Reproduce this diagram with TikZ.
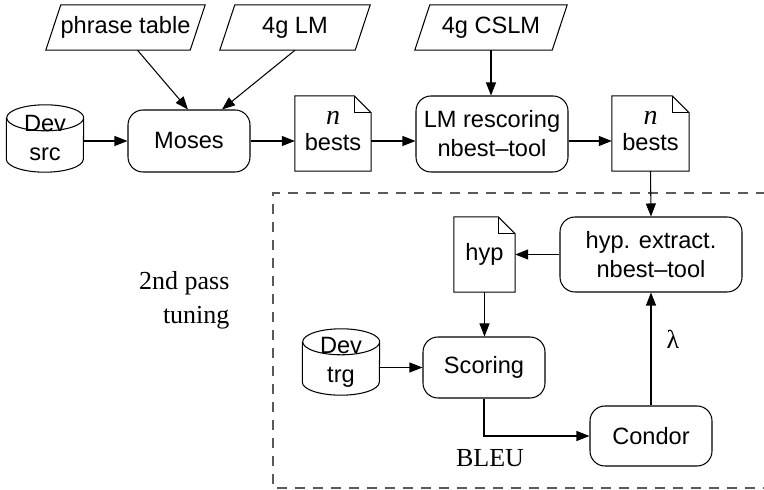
\documentclass[tikz,border=0pt]{standalone}
\usepackage{fontspec}
\setmainfont{Liberation Serif}
\setsansfont{Liberation Sans}
\usetikzlibrary{arrows.meta}
\newcommand\parashape[2]{\draw[lw] ([xshift=-#2]#1.south west) -- ([xshift=#2]#1.north west) -- ([xshift=#2]#1.north east) -- ([xshift=-#2]#1.south east) -- cycle;}
\newcommand\docshape[1]{\draw[lw] (#1.south west) -- (#1.north west) -- ([xshift=-17pt]#1.north east) -- ([yshift=-17pt]#1.north east) -- (#1.south east) -- cycle;
  \draw[lw] ([xshift=-17pt]#1.north east) |- ([yshift=-17pt]#1.north east);}
\newcommand\cylshape[1]{\draw[lw] ([yshift=-13pt]#1.north west) -- ([yshift=13pt]#1.south west)
  arc[start angle=180,end angle=360,x radius=38.5pt,y radius=13pt]
  -- ([yshift=-13pt]#1.north east)
  arc[start angle=0,end angle=180,x radius=38.5pt,y radius=13pt]
  arc[start angle=180,end angle=360,x radius=38.5pt,y radius=13pt];}
\begin{document}
\begin{tikzpicture}[x=1pt,y=1pt,
  every node/.style={font=\sffamily\fontsize{23.6}{29}\selectfont},
  lw/.style={line width=1.05pt},
  proc/.style={draw, lw, rounded corners=15pt, align=center, inner sep=0pt},
  blank/.style={inner sep=0pt, align=center},
  arr/.style={lw, -{Triangle[length=13pt,width=10pt]}},
  serif/.style={font=\rmfamily\fontsize{26}{34}\selectfont},
  nsym/.style={inner sep=0pt, font=\rmfamily\itshape\fontsize{28}{30}\selectfont},
  boundary/.style={lw, dash pattern=on 10pt off 8pt, draw=black!65},
]
\useasboundingbox (0,0) rectangle (764,490);

% dashed region
\draw[boundary] (766,297) -- (273,297) -- (273,2) -- (766,2);

% inputs
\node[blank, minimum width=144pt, minimum height=45pt] (phrase) at (125.5,462.5) {phrase table};
\parashape{phrase}{7.5pt}
\node[blank, minimum width=135pt, minimum height=45pt] (lmfour) at (295,462.5) {4g LM};
\parashape{lmfour}{7.5pt}
\node[blank, minimum width=137pt, minimum height=45pt] (cslm) at (491,462.5) {4g CSLM};
\parashape{cslm}{7.5pt}

\node[blank, minimum width=77pt, minimum height=67pt] (devsrc) at (45,351.5) {Dev\\src};
\cylshape{devsrc}

\node[proc, minimum width=122pt, minimum height=62pt] (moses) at (189,349) {Moses};

\node[blank, minimum width=76pt, minimum height=75pt] (nbone) at (333,356.5) {};
\docshape{nbone}
\node[nsym] (nbonen) at (333,372) {n};
\node[blank] (nbonet) at (333,348) {bests};

\node[proc, minimum width=152pt, minimum height=76pt] (rescore) at (492,356) {LM rescoring\\nbest--tool};

\node[blank, minimum width=77pt, minimum height=75pt] (nbtwo) at (650.5,356.5) {};
\docshape{nbtwo}
\node[nsym] (nbtwon) at (650.5,372) {n};
\node[blank] (nbtwot) at (650.5,348) {bests};

% tuning loop
\node[proc, minimum width=182pt, minimum height=75pt] (hypx) at (651,235.5) {hyp. extract.\\nbest--tool};
\node[blank, minimum width=61pt, minimum height=75pt] (hyp) at (484.5,235.5) {hyp};
\docshape{hyp}
\node[proc, minimum width=122pt, minimum height=61pt] (scoring) at (484,122.5) {Scoring};
\node[blank, minimum width=77pt, minimum height=66pt] (devtrg) at (341,128) {Dev\\trg};
\cylshape{devtrg}
\node[proc, minimum width=122pt, minimum height=60pt] (condor) at (651,54) {Condor};

\node[serif, anchor=east, align=right] (tuning) at (233,190) {2nd pass\\tuning};
\node[serif] (bleu) at (490,32) {BLEU};
\node[serif] (lambda) at (673,151) {λ};

% connectors
\draw[arr] ([xshift=12pt]phrase.south) -- ([xshift=-1pt]moses.north);
\draw[arr] (lmfour.south) -- ([xshift=33pt]moses.north);
\draw[arr] (cslm.south) -- (cslm.south |- rescore.north);
\draw[arr] (devsrc.east |- moses.east) -- (moses.east -| moses.west);
\draw[arr] (moses.east) -- (moses.east -| nbone.west);
\draw[arr] (nbone.east |- moses.east) -- (rescore.west |- moses.east);
\draw[arr] (rescore.east |- moses.east) -- (nbtwo.west |- moses.east);
\draw[arr] (nbtwo.south) -- (hypx.north);
\draw[arr] (hypx.west) -- (hyp.east);
\draw[arr] (hyp.south) -- (hyp.south |- scoring.north);
\draw[arr] (devtrg.east |- scoring.west) -- (scoring.west);
\draw[arr] (scoring.south) |- (condor.west);
\draw[arr] (condor.north) -- (hypx.south);
\end{tikzpicture}
\end{document}
